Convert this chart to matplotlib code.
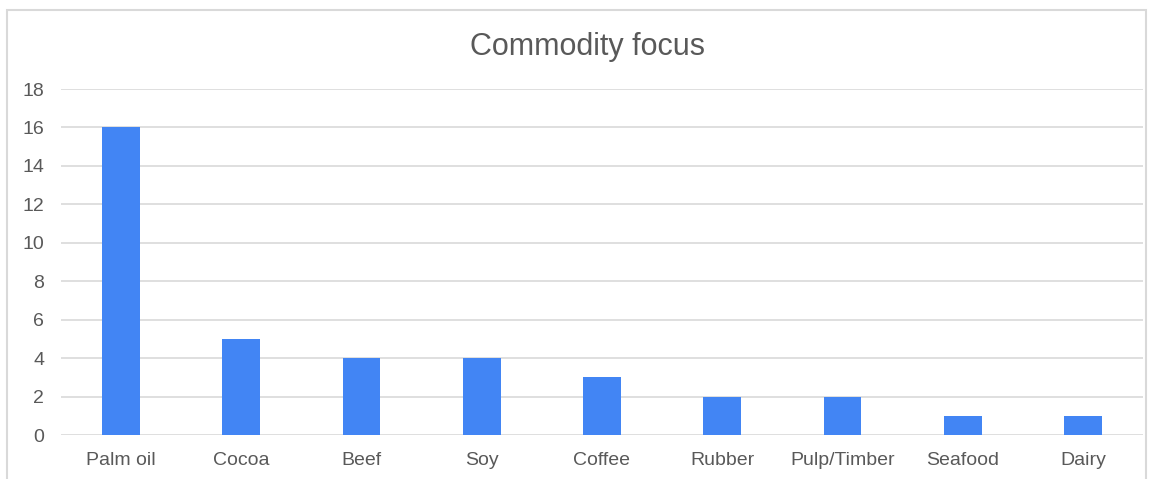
import matplotlib
matplotlib.use('Agg')
import matplotlib.pyplot as plt
from matplotlib.patches import Rectangle

# Chart data
categories = ["Palm oil", "Cocoa", "Beef", "Soy", "Coffee", "Rubber",
              "Pulp/Timber", "Seafood", "Dairy"]
counts = [16, 5, 4, 4, 3, 2, 2, 1, 1]
y_ticks = [0, 2, 4, 6, 8, 10, 12, 14, 16, 18]

plt.rcParams['font.family'] = ['Liberation Sans', 'DejaVu Sans']

W, H = 1157, 479
fig = plt.figure(figsize=(W / 100, H / 100), dpi=100)

# Outer chart border (bottom edge cut off in the reference)
fig.patches.append(Rectangle((7 / W, -0.05), (1146 - 7) / W, 1.05 - 10 / H,
                             transform=fig.transFigure, fill=False,
                             edgecolor='#d9d9d9', linewidth=1.5))

ax = fig.add_axes([61 / W, 1 - 435 / H, (1143 - 61) / W, (435 - 89) / H])

x = range(len(categories))
ax.bar(x, counts, width=0.315, color='#4285f4', zorder=3)

ax.set_xlim(-0.5, len(categories) - 0.5)
ax.set_ylim(0, 18)
ax.set_yticks(y_ticks)
ax.set_xticks(list(x))
ax.set_xticklabels(categories)
ax.grid(axis='y', color='#d9d9d9', linewidth=1.2, zorder=0)
ax.set_axisbelow(True)

for s in ax.spines.values():
    s.set_visible(False)
ax.tick_params(length=0, labelsize=14, colors='#595959')
ax.tick_params(axis='y', pad=12)
ax.tick_params(axis='x', pad=12)

fig.text(588 / W, 1 - 47 / H, "Commodity focus", ha='center', va='center',
         fontsize=22, color='#595959')

fig.savefig('out.png', dpi=100)
